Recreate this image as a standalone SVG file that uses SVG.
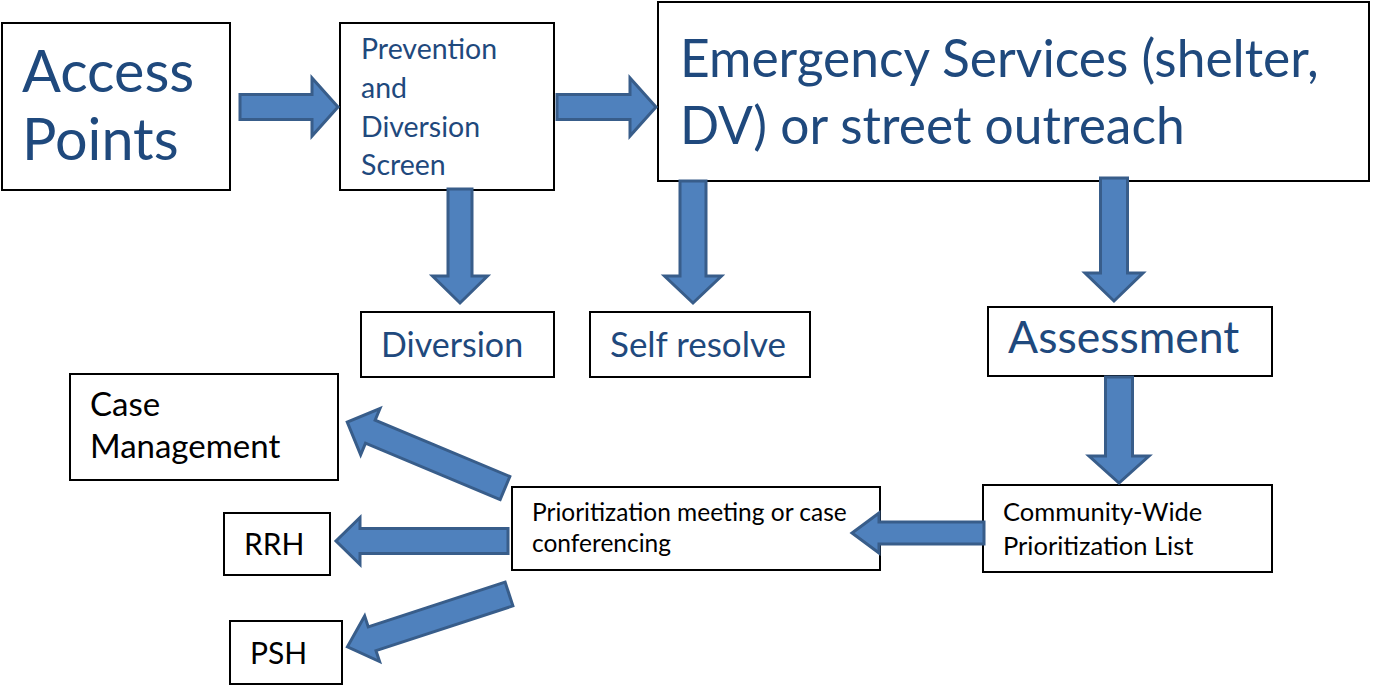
<svg xmlns="http://www.w3.org/2000/svg" width="1374" height="686" viewBox="0 0 1374 686">
<style>
.box{fill:#fff;stroke:#000;stroke-width:2}
.arr{fill:#4F81BD;stroke:#385D8A;stroke-width:3;stroke-linejoin:miter}
.t{font-family:Lato,"Open Sans","Liberation Sans",sans-serif;fill:#1F497D}
.k{font-family:Lato,"Open Sans","Liberation Sans",sans-serif;fill:#000}
</style>
<rect width="1374" height="686" fill="#fff"/>
<g id="access">
<rect class="box" x="2" y="23" width="228" height="167"/>
<text class="t" x="22" y="92" font-size="57.5">Access</text>
<text class="t" x="22" y="160" font-size="57.5">Points</text>
</g>
<g id="prevention">
<rect class="box" x="340" y="23" width="214" height="167"/>
<text class="t" x="361" y="59" font-size="28.5">Prevention</text>
<text class="t" x="361" y="98" font-size="28.5">and</text>
<text class="t" x="361" y="137" font-size="28.5">Diversion</text>
<text class="t" x="361" y="175" font-size="28.5">Screen</text>
</g>
<g id="emergency">
<rect class="box" x="658" y="2" width="711" height="179"/>
<text class="t" x="680" y="77" font-size="51.5">Emergency Services (shelter,</text>
<text class="t" x="680" y="144" font-size="51.5">DV) or street outreach</text>
</g>
<g id="diversion">
<rect class="box" x="361" y="312" width="193" height="65"/>
<text class="t" x="381" y="357" font-size="34">Diversion</text>
</g>
<g id="selfresolve">
<rect class="box" x="590" y="312" width="220" height="65"/>
<text class="t" x="610" y="357" font-size="35">Self resolve</text>
</g>
<g id="assessment">
<rect class="box" x="988" y="307" width="284" height="69"/>
<text class="t" x="1008" y="353" font-size="44.5">Assessment</text>
</g>
<g id="community">
<rect class="box" x="983" y="485" width="289" height="87"/>
<text class="k" x="1003" y="521" font-size="25.5">Community-Wide</text>
<text class="k" x="1003" y="555" font-size="25.5">Prioritization List</text>
</g>
<g id="prioritization">
<rect class="box" x="512" y="487" width="368" height="83"/>
<text class="k" x="532" y="521" font-size="24.5">Prioritization meeting or case</text>
<text class="k" x="532" y="552" font-size="24.5">conferencing</text>
</g>
<g id="casemanagement">
<rect class="box" x="70" y="374" width="268" height="106"/>
<text class="k" x="90" y="416" font-size="33">Case</text>
<text class="k" x="90" y="458" font-size="33">Management</text>
</g>
<g id="rrh">
<rect class="box" x="224" y="513" width="106" height="62"/>
<text class="k" x="244" y="555" font-size="30">RRH</text>
</g>
<g id="psh">
<rect class="box" x="230" y="621" width="112" height="63"/>
<text class="k" x="250" y="664" font-size="30">PSH</text>
</g>
<g id="connectors">
<polygon class="arr" transform="translate(240,107)" points="0,-12.5 72,-12.5 72,-29 98,0 72,29 72,12.5 0,12.5"/>
<polygon class="arr" transform="translate(557,107)" points="0,-12.5 73,-12.5 73,-29 99,0 73,29 73,12.5 0,12.5"/>
<polygon class="arr" transform="translate(460,189) rotate(90)" points="0,-12 87,-12 87,-27.5 114,0 87,27.5 87,12 0,12"/>
<polygon class="arr" transform="translate(693,181) rotate(90)" points="0,-13 95,-13 95,-28.5 122,0 95,28.5 95,13 0,13"/>
<polygon class="arr" transform="translate(1114,178) rotate(90)" points="0,-13.5 95,-13.5 95,-29 123,0 95,29 95,13.5 0,13.5"/>
<polygon class="arr" transform="translate(1119,377) rotate(90)" points="0,-13.5 79,-13.5 79,-30 106,0 79,30 79,13.5 0,13.5"/>
<polygon class="arr" transform="translate(984,533) rotate(180)" points="0,-11 105,-11 105,-20 132,0 105,20 105,11 0,11"/>
<polygon class="arr" transform="translate(508,541) rotate(180)" points="0,-12.5 148,-12.5 148,-23.5 172,0 148,23.5 148,12.5 0,12.5"/>
<polygon class="arr" transform="translate(505,488) rotate(202.7)" points="0,-12.5 146,-12.5 146,-25 171,0 146,25 146,12.5 0,12.5"/>
<polygon class="arr" transform="translate(509,594) rotate(161.9)" points="0,-12.5 144,-12.5 144,-24 170,0 144,24 144,12.5 0,12.5"/>
</g>
</svg>
